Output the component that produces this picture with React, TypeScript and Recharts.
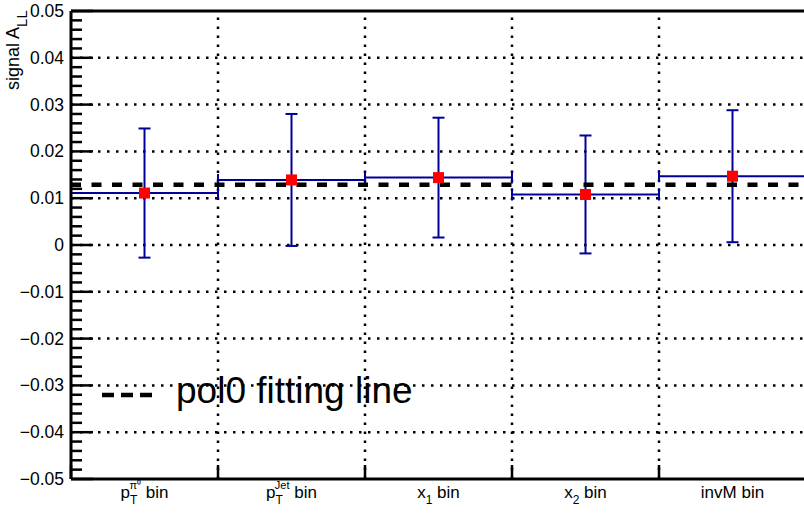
import React from 'react';
import {
  ComposedChart,
  Scatter,
  ErrorBar,
  XAxis,
  YAxis,
  ReferenceLine,
} from 'recharts';

// bin layout (x axis runs 0..5, one unit per bin)
const binCenters = [0.5, 1.5, 2.5, 3.5, 4.5];
const binHalfWidths = [0.5, 0.5, 0.5, 0.5, 0.5];
const binEdges = [0, 1, 2, 3, 4, 5];

// measured signal A_LL per binning and its stat error
const signalALL = [0.0111, 0.0139, 0.0144, 0.0108, 0.0147];
const signalErr = [0.0138, 0.0141, 0.0128, 0.0126, 0.0141];

// pol0 fit result
const pol0Fit = 0.0129;

// x labels: base text, subscript, superscript
const labelBase = ['p', 'p', 'x', 'x', 'invM'];
const labelSub = ['T', 'T', '1', '2', ''];
const labelSup = ['π⁰', 'Jet', '', '', ''];

const yMajorTicks = [-0.05, -0.04, -0.03, -0.02, -0.01, 0, 0.01, 0.02, 0.03, 0.04, 0.05];
const yMajorLabels = ['−0.05', '−0.04', '−0.03', '−0.02', '−0.01', '0', '0.01', '0.02', '0.03', '0.04', '0.05'];
const yGridValues = [-0.04, -0.03, -0.02, -0.01, 0, 0.01, 0.02, 0.03, 0.04];
const xGridValues = [1, 2, 3, 4];

// 5 divisions between majors
const yAllTicks: number[] = [];
yMajorTicks.forEach((v, i) => {
  yAllTicks.push(v);
  if (i < yMajorTicks.length - 1) {
    for (let k = 1; k < 5; k++) yAllTicks.push(+(v + k * 0.002).toFixed(4));
  }
});

const xAllTicks = [...binEdges, ...binCenters].sort((a, b) => a - b);

const data = binCenters.map((x, i) => ({
  x,
  y: signalALL[i],
  xerr: binHalfWidths[i],
  yerr: signalErr[i],
}));

const FONT = '"Liberation Sans", Arial, Helvetica, sans-serif';
const BLUE = '#000099';

const YTick = (props: any) => {
  const { x, y, payload } = props;
  const v = payload.value;
  const idx = yMajorTicks.findIndex((m) => Math.abs(m - v) < 1e-6);
  if (idx >= 0) {
    return (
      <g>
        <line x1={x} x2={x + 22} y1={y} y2={y} stroke="#000" strokeWidth={2.5} />
        <text x={x - 7} y={y + 6} textAnchor="end" fontSize={17.5} fontFamily={FONT} fill="#000">
          {yMajorLabels[idx]}
        </text>
      </g>
    );
  }
  return <line x1={x} x2={x + 11} y1={y} y2={y} stroke="#000" strokeWidth={2.5} />;
};

const XTick = (props: any) => {
  const { x, y, payload } = props;
  const v = payload.value;
  if (Number.isInteger(v)) {
    return <line x1={x} x2={x} y1={y} y2={y - 14} stroke="#000" strokeWidth={2.5} />;
  }
  const i = binCenters.indexOf(v);
  const sub = labelSub[i];
  const sup = labelSup[i];
  return (
    <text x={x} y={y + 19} textAnchor="middle" fontSize={17} fontFamily={FONT} fill="#000">
      {labelBase[i]}
      {sub && (
        <tspan fontSize={12} dy={6}>
          {sub}
        </tspan>
      )}
      {sup && (
        <tspan fontSize={11} dx={-8} dy={-15}>
          {sup}
        </tspan>
      )}
      <tspan fontSize={17} dy={sup ? 9 : sub ? -6 : 0}>
        {' bin'}
      </tspan>
    </text>
  );
};

const RedSquare = (props: any) => {
  const { cx, cy } = props;
  return <rect x={cx - 5.5} y={cy - 5.5} width={11} height={11} fill="#ff0000" />;
};

export default function App() {
  return (
    <div style={{ position: 'absolute', left: 0, top: 0, width: 804, height: 514, overflow: 'hidden', background: '#fff' }}>
      <ComposedChart
        width={806}
        height={514}
        data={data}
        margin={{ top: 11, right: 0, bottom: 0, left: 0 }}
      >
        <XAxis
          dataKey="x"
          type="number"
          domain={[0, 5]}
          ticks={xAllTicks}
          interval={0}
          height={35}
          tick={<XTick />}
          tickLine={false}
          tickSize={0}
          tickMargin={0}
          axisLine={{ stroke: '#000', strokeWidth: 3 }}
          allowDataOverflow
        />
        <YAxis
          type="number"
          domain={[-0.05, 0.05]}
          ticks={yAllTicks}
          interval={0}
          width={71}
          tick={<YTick />}
          tickLine={false}
          tickSize={0}
          tickMargin={0}
          axisLine={{ stroke: '#000', strokeWidth: 3 }}
          allowDataOverflow
        />
        {yGridValues.map((v) => (
          <ReferenceLine key={'gy' + v} y={v} stroke="#000" strokeWidth={2.5} strokeDasharray="2.5 6.5" />
        ))}
        {xGridValues.map((v) => (
          <ReferenceLine key={'gx' + v} x={v} stroke="#000" strokeWidth={2.5} strokeDasharray="2.5 6.5" />
        ))}
        <ReferenceLine y={0.05} stroke="#000" strokeWidth={3} />
        <ReferenceLine x={5} stroke="#000" strokeWidth={3} />
        <Scatter dataKey="y" shape={<RedSquare />} isAnimationActive={false}>
          <ErrorBar dataKey="xerr" direction="x" width={6} stroke={BLUE} strokeWidth={2} />
          <ErrorBar dataKey="yerr" direction="y" width={6} stroke={BLUE} strokeWidth={2} />
        </Scatter>
        <ReferenceLine y={pol0Fit} stroke="#000" strokeWidth={4.5} strokeDasharray="10 10.5" />
      </ComposedChart>
      <svg
        width={804}
        height={514}
        style={{ position: 'absolute', left: 0, top: 0, pointerEvents: 'none' }}
      >
        <text
          x={19}
          y={90}
          transform="rotate(-90, 19, 90)"
          fontSize={18}
          fontFamily={FONT}
          fill="#000"
        >
          signal A
          <tspan fontSize={15} dy={8}>
            LL
          </tspan>
        </text>
        <line x1={102} x2={152} y1={395} y2={395} stroke="#000" strokeWidth={4.5} strokeDasharray="12 7" />
        <text x={176} y={403} fontSize={37} fontFamily={FONT} fill="#000">
          pol0 fitting line
        </text>
      </svg>
    </div>
  );
}
